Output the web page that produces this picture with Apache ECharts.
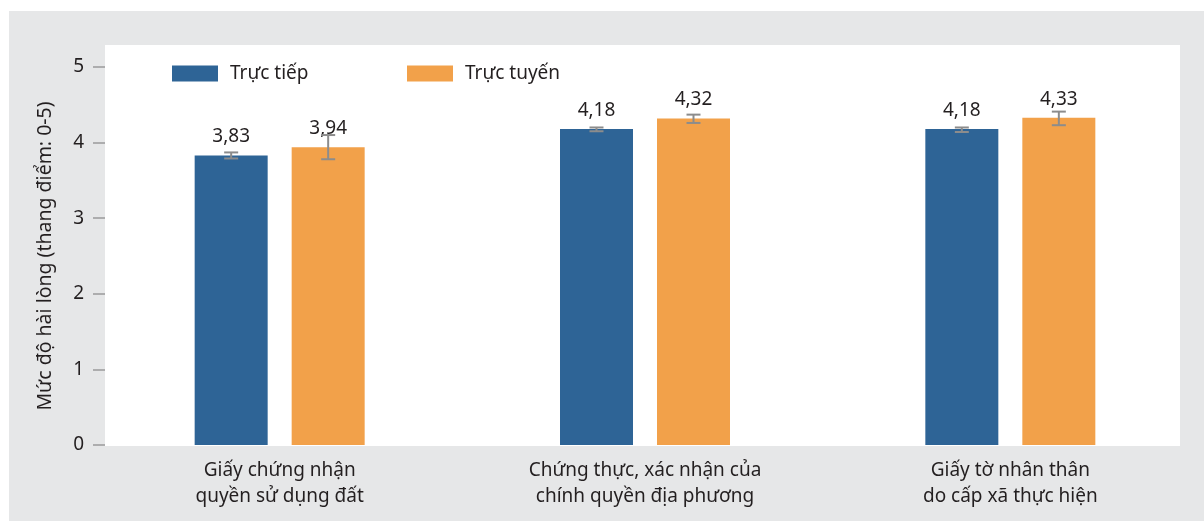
<!DOCTYPE html>
<html>
<head>
<meta charset="utf-8">
<script src="https://cdn.jsdelivr.net/npm/echarts@6/dist/echarts.min.js"></script>
<style>
  html, body { margin: 0; padding: 0; background: #ffffff; }
  #chart { width: 1204px; height: 521px; }
</style>
</head>
<body>
<div id="chart"></div>
<script>
// Satisfaction scores by procedure and channel (scale 0-5)
const categories = [
  'Giấy chứng nhận\nquyền sử dụng đất',
  'Chứng thực, xác nhận của\nchính quyền địa phương',
  'Giấy tờ nhân thân\ndo cấp xã thực hiện'
];
const seriesNames = ['Trực tiếp', 'Trực tuyến'];
const directValues = [3.83, 4.18, 4.18];
const onlineValues = [3.94, 4.32, 4.33];
// Confidence intervals [low, high]
const directErrors = [[3.79, 3.87], [4.15, 4.20], [4.14, 4.20]];
const onlineErrors = [[3.78, 4.10], [4.26, 4.37], [4.23, 4.41]];
const yTicks = [0, 1, 2, 3, 4, 5];

const FONT = 'Noto Sans';
const TEXT = '#231f20';
const BLUE = '#2e6496';
const ORANGE = '#f2a14a';
const BAR_W = 73;
const BAR_GAP = 24;

const chart = echarts.init(document.getElementById('chart'), null, { renderer: 'canvas' });

function errorSeries(name, errors, offset) {
  return {
    type: 'custom',
    name: name + ' CI',
    z: 5,
    silent: true,
    data: errors.map((e, i) => [i, e[0], e[1]]),
    renderItem: function (params, api) {
      const lo = api.coord([api.value(0), api.value(1)]);
      const hi = api.coord([api.value(0), api.value(2)]);
      const x = lo[0] + offset;
      const cap = 7;
      const style = { stroke: '#8c8c8c', lineWidth: 2 };
      return {
        type: 'group',
        children: [
          { type: 'line', shape: { x1: x, y1: lo[1], x2: x, y2: hi[1] }, style: style },
          { type: 'line', shape: { x1: x - cap, y1: lo[1], x2: x + cap, y2: lo[1] }, style: style },
          { type: 'line', shape: { x1: x - cap, y1: hi[1], x2: x + cap, y2: hi[1] }, style: style }
        ]
      };
    }
  };
}

const labelStyle = {
  show: true,
  position: 'top',
  distance: 9,
  fontFamily: FONT,
  fontSize: 19,
  color: TEXT,
  formatter: p => p.value.toFixed(2).replace('.', ',')
};

function legendAt(left, name) {
  return {
    left: left, top: 64, padding: 0, icon: 'rect',
    itemWidth: 46, itemHeight: 16, itemGap: 0,
    data: [name],
    textStyle: { fontFamily: FONT, fontSize: 19, color: TEXT, padding: [0, 0, 0, 7] }
  };
}

const option = {
  animation: false,
  textStyle: { fontFamily: FONT },
  graphic: [
    {
      type: 'rect', z: -20, silent: true,
      shape: { x: 9, y: 11, width: 1195, height: 510 },
      style: { fill: '#e6e7e8' }
    },
    {
      type: 'rect', z: -10, silent: true,
      shape: { x: 105, y: 45, width: 1075, height: 401 },
      style: { fill: '#ffffff' }
    }
  ],
  legend: [legendAt(172, seriesNames[0]), legendAt(407, seriesNames[1])],
  grid: { left: 97, right: 11, top: 67, bottom: 76, containLabel: false },
  xAxis: {
    type: 'category',
    data: categories,
    axisLine: { show: false },
    axisTick: { show: false },
    axisLabel: {
      margin: 13,
      fontFamily: FONT,
      fontSize: 19,
      lineHeight: 26,
      color: TEXT,
      interval: 0
    }
  },
  yAxis: {
    type: 'value',
    min: yTicks[0],
    max: yTicks[yTicks.length - 1],
    interval: 1,
    offset: -8,
    name: 'Mức độ hài lòng (thang điểm: 0-5)',
    nameLocation: 'middle',
    nameGap: 50,
    nameRotate: 90,
    nameTextStyle: { fontFamily: FONT, fontSize: 19.5, color: TEXT },
    axisLine: { show: false },
    axisTick: { show: true, length: 12, lineStyle: { color: '#9a9a9a', width: 1.5 } },
    splitLine: { show: false },
    axisLabel: { margin: 21, fontFamily: FONT, fontSize: 19, color: TEXT }
  },
  series: [
    {
      name: seriesNames[0], type: 'bar', data: directValues,
      barWidth: BAR_W, barGap: (BAR_GAP / BAR_W * 100) + '%',
      itemStyle: { color: BLUE }, label: labelStyle
    },
    {
      name: seriesNames[1], type: 'bar', data: onlineValues,
      barWidth: BAR_W, barGap: (BAR_GAP / BAR_W * 100) + '%',
      itemStyle: { color: ORANGE }, label: labelStyle
    },
    errorSeries(seriesNames[0], directErrors, -(BAR_W + BAR_GAP) / 2),
    errorSeries(seriesNames[1], onlineErrors, (BAR_W + BAR_GAP) / 2)
  ]
};

chart.setOption(option);
</script>
</body>
</html>
